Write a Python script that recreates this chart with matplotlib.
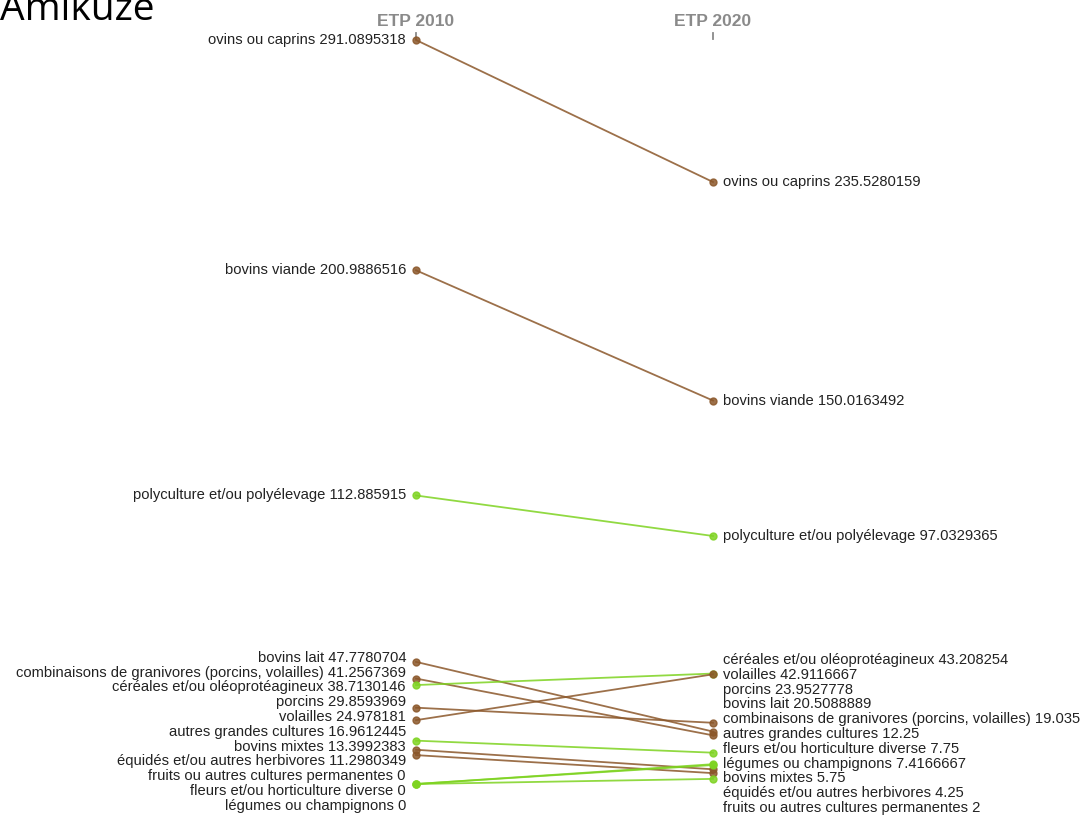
import matplotlib
matplotlib.use("Agg")
import matplotlib.pyplot as plt

# slope chart: ETP 2010 -> ETP 2020, Amikuze
categories = [
    "ovins ou caprins", "bovins viande", "polyculture et/ou polyélevage",
    "bovins lait", "combinaisons de granivores (porcins, volailles)",
    "céréales et/ou oléoprotéagineux", "porcins", "volailles",
    "autres grandes cultures", "bovins mixtes", "équidés et/ou autres herbivores",
    "fruits ou autres cultures permanentes", "fleurs et/ou horticulture diverse",
    "légumes ou champignons",
]
etp_2010 = ["291.0895318", "200.9886516", "112.885915", "47.7780704", "41.2567369",
            "38.7130146", "29.8593969", "24.978181", "16.9612445", "13.3992383",
            "11.2980349", "0", "0", "0"]
etp_2020 = ["235.5280159", "150.0163492", "97.0329365", "20.5088889", "19.035",
            "43.208254", "23.9527778", "42.9116667", "12.25", "5.75",
            "4.25", "2", "7.75", "7.4166667"]
group = ["elevage", "elevage", "culture", "elevage", "elevage", "culture", "elevage",
         "elevage", "culture", "elevage", "elevage", "culture", "culture", "culture"]
columns = ["ETP 2010", "ETP 2020"]

COLORS = {"elevage": "#8B572A", "culture": "#7ED321"}
W, H = 1089, 816
fig = plt.figure(figsize=(W / 100, H / 100), dpi=100)
# axes: x from left column to right column, y from 0 to max value
ax = fig.add_axes([416 / W, (H - 784) / H, (713 - 416) / W, (784 - 40) / H])
ymax = max(float(v) for v in etp_2010 + etp_2020)
ax.set_xlim(0, 1); ax.set_ylim(0, ymax)
ax.axis("off")

px_per_unit = (784 - 40) / ymax
GAP = 14.8 / px_per_unit
FLOOR = -(808 - 784) / px_per_unit  # keep last label inside the picture


def spread(vals):
    # push overlapping labels apart (relaxation), keeps order by value
    order = sorted(range(len(vals)), key=lambda i: -vals[i])
    pos = {i: vals[i] for i in order}
    for _ in range(500):
        moved = False
        for a, b in zip(order, order[1:]):
            d = pos[a] - pos[b]
            if d < GAP - 1e-9:
                s = (GAP - d) / 2
                pos[a] += s; pos[b] -= s; moved = True
        if not moved:
            break
    pos[order[-1]] = max(pos[order[-1]], FLOOR)
    for a, b in zip(order[-2::-1], order[::-1]):
        pos[a] = max(pos[a], pos[b] + GAP)
    return pos


v10 = [float(v) for v in etp_2010]
v20 = [float(v) for v in etp_2020]
for c, a, b, g in zip(categories, v10, v20, group):
    ax.plot([0, 1], [a, b], "-", color=COLORS[g], lw=1.3, alpha=0.85,
            marker="o", ms=5, clip_on=False, zorder=3)

lab_font = dict(fontsize=10.6, color="#222222", family="Liberation Sans", va="center")
p10 = spread(v10); p20 = spread(v20)
for i, c in enumerate(categories):
    ax.annotate(f"{c} {etp_2010[i]}", (0, p10[i]), xytext=(-10, 0), textcoords="offset pixels",
                ha="right", annotation_clip=False, **lab_font)
    ax.annotate(f"{c} {etp_2020[i]}", (1, p20[i]), xytext=(10, 0), textcoords="offset pixels",
                ha="left", annotation_clip=False, **lab_font)

for x, col in enumerate(columns):
    ax.annotate(col, (x, ymax), xytext=(0, 19), textcoords="offset pixels", ha="center",
                va="center", fontsize=12.5, fontweight="bold", color="#8a8a8a",
                family="Liberation Sans", annotation_clip=False)
    ax.plot([x, x], [ymax + 1.5 / px_per_unit, ymax + 7 / px_per_unit],
            color="#8a8a8a", lw=1.3, clip_on=False)

fig.text(0.0, 1 - 20 / H, "Amikuze", fontsize=28, family="Open Sans", ha="left",
         va="baseline", color="black")

fig.savefig("out.png", dpi=100)
